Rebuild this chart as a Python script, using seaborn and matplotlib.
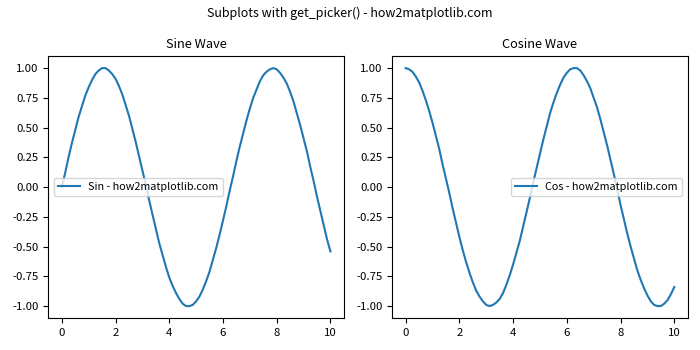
import matplotlib
matplotlib.use("Agg")
import matplotlib.pyplot as plt
import pandas as pd
import seaborn as sns

plt.rcParams['font.family'] = ['Noto Sans CJK SC', 'DejaVu Sans']
plt.rcParams['axes.unicode_minus'] = False
plt.rcParams['font.size'] = 8.2
plt.rcParams['axes.titlesize'] = 9.2
plt.rcParams['figure.titlesize'] = 9.0
plt.rcParams['legend.fontsize'] = 7.8

x_vals = [0.0, 0.125, 0.25, 0.375, 0.5, 0.625, 0.75, 0.875,
          1.0, 1.125, 1.25, 1.375, 1.5, 1.625, 1.75, 1.875,
          2.0, 2.125, 2.25, 2.375, 2.5, 2.625, 2.75, 2.875,
          3.0, 3.125, 3.25, 3.375, 3.5, 3.625, 3.75, 3.875,
          4.0, 4.125, 4.25, 4.375, 4.5, 4.625, 4.75, 4.875,
          5.0, 5.125, 5.25, 5.375, 5.5, 5.625, 5.75, 5.875,
          6.0, 6.125, 6.25, 6.375, 6.5, 6.625, 6.75, 6.875,
          7.0, 7.125, 7.25, 7.375, 7.5, 7.625, 7.75, 7.875,
          8.0, 8.125, 8.25, 8.375, 8.5, 8.625, 8.75, 8.875,
          9.0, 9.125, 9.25, 9.375, 9.5, 9.625, 9.75, 9.875,
          10.0]
sin_vals = [0.00, 0.12, 0.25, 0.37, 0.48, 0.59, 0.68, 0.77,
            0.84, 0.90, 0.95, 0.98, 1.00, 1.00, 0.98, 0.95,
            0.91, 0.85, 0.78, 0.69, 0.60, 0.49, 0.38, 0.26,
            0.14, 0.02, -0.11, -0.23, -0.35, -0.47, -0.57, -0.67,
            -0.76, -0.83, -0.89, -0.94, -0.98, -1.00, -1.00, -0.99,
            -0.96, -0.92, -0.86, -0.79, -0.71, -0.61, -0.51, -0.40,
            -0.28, -0.16, -0.03, 0.09, 0.22, 0.34, 0.45, 0.56,
            0.66, 0.75, 0.82, 0.89, 0.94, 0.97, 0.99, 1.00,
            0.99, 0.96, 0.92, 0.87, 0.80, 0.72, 0.62, 0.52,
            0.41, 0.30, 0.17, 0.05, -0.08, -0.20, -0.32, -0.44,
            -0.54]
cos_vals = [1.00, 0.99, 0.97, 0.93, 0.88, 0.81, 0.73, 0.64,
            0.54, 0.43, 0.32, 0.19, 0.07, -0.05, -0.18, -0.30,
            -0.42, -0.53, -0.63, -0.72, -0.80, -0.87, -0.92, -0.96,
            -0.99, -1.00, -0.99, -0.97, -0.94, -0.89, -0.82, -0.74,
            -0.65, -0.55, -0.45, -0.33, -0.21, -0.09, 0.04, 0.16,
            0.28, 0.40, 0.51, 0.62, 0.71, 0.79, 0.86, 0.92,
            0.96, 0.99, 1.00, 1.00, 0.98, 0.94, 0.89, 0.83,
            0.75, 0.67, 0.57, 0.46, 0.35, 0.23, 0.11, -0.02,
            -0.15, -0.27, -0.39, -0.50, -0.60, -0.70, -0.78, -0.85,
            -0.91, -0.96, -0.99, -1.00, -1.00, -0.98, -0.95, -0.90,
            -0.84]
y_ticks = [-1.00, -0.75, -0.50, -0.25, 0.00, 0.25, 0.50, 0.75, 1.00]

df = pd.DataFrame({"x": x_vals, "sin": sin_vals, "cos": cos_vals})

fig, (ax1, ax2) = plt.subplots(1, 2, figsize=(7, 3.5), dpi=100)

panels = [
    (ax1, "sin", "Sin - how2matplotlib.com", "Sine Wave", "center left"),
    (ax2, "cos", "Cos - how2matplotlib.com", "Cosine Wave", "center right"),
]
for ax, col, label, title, loc in panels:
    sns.lineplot(data=df, x="x", y=col, ax=ax, label=label,
                 color="#1f77b4", estimator=None, sort=False)
    ax.set_title(title)
    ax.set_xlabel("")
    ax.set_ylabel("")
    ax.set_yticks(y_ticks)
    ax.set_yticklabels([f"{t:.2f}" for t in y_ticks])
    ax.legend(loc=loc)

fig.suptitle("Subplots with get_picker() - how2matplotlib.com")
fig.tight_layout()
fig.savefig("out.png", dpi=100)
